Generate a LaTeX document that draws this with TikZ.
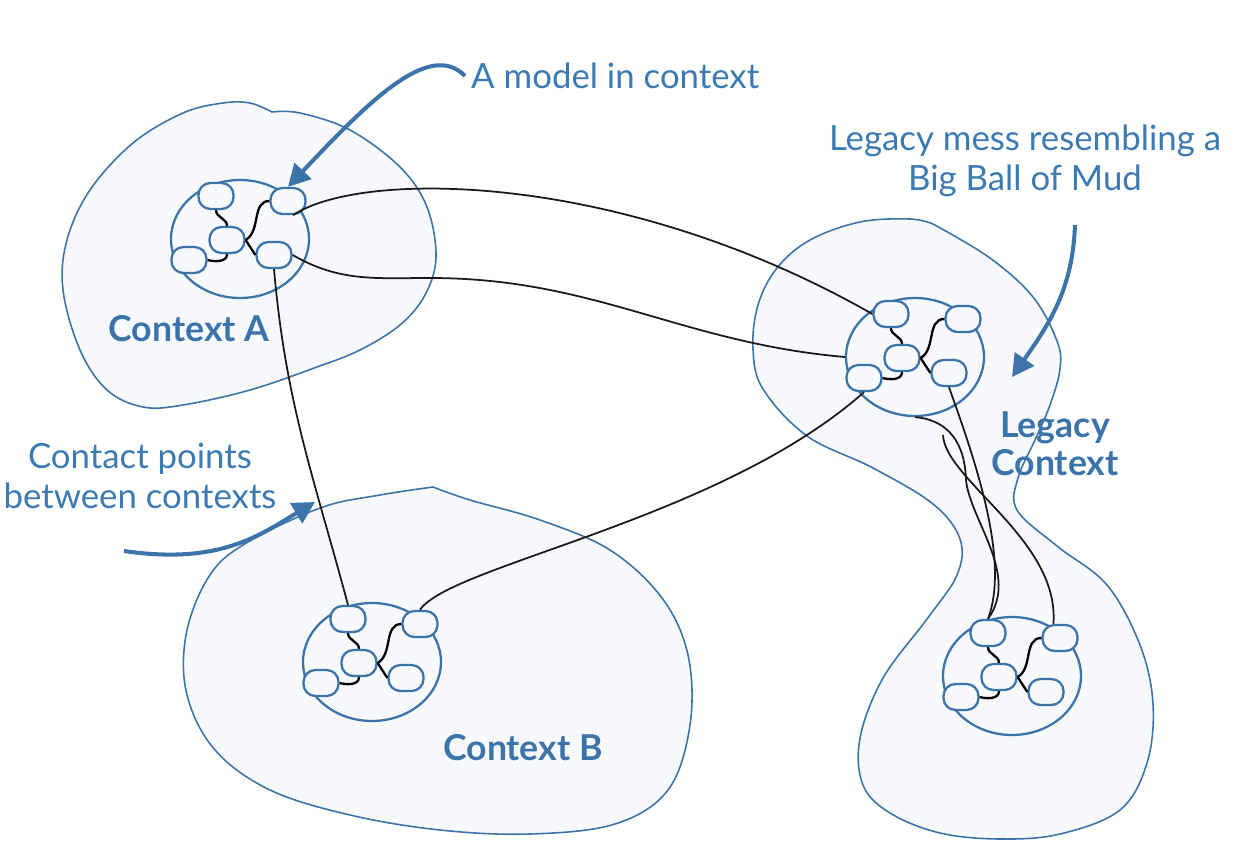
\documentclass[tikz,border=0pt]{standalone}
\usepackage{fontspec}
\setmainfont{Lato}
\usepackage{tikz}
\usetikzlibrary{arrows.meta,shapes.geometric}

\definecolor{mudblue}{RGB}{60,116,170}
\definecolor{mudfill}{RGB}{247,249,252}
\definecolor{notetext}{RGB}{60,122,180}

\begin{document}
\begin{tikzpicture}[x=0.02cm,y=0.02cm,
  blob/.style={draw=mudblue,fill=mudfill,line width=0.9pt},
  model/.style={ellipse,draw=mudblue,fill=mudfill,line width=1.3pt,minimum width=2.76cm,minimum height=2.36cm,inner sep=0pt},
  unit/.style={rectangle,rounded corners=0.24cm,draw=mudblue,fill=mudfill,line width=1.3pt,minimum width=0.7cm,minimum height=0.52cm,inner sep=0pt},
  wire/.style={black,line width=1.3pt},
  link/.style={black!90,line width=1pt},
  note/.style={text=notetext,font=\fontsize{19.8}{22.5}\selectfont,align=center},
  ctxname/.style={text=mudblue,font=\fontsize{20.3}{21.5}\selectfont\bfseries,align=center},
  pointer/.style={draw=mudblue,line width=2.3pt,-{Triangle[length=0.44cm,width=0.46cm]}},
  pics/cluster/.style={code={
    \node[model] (-c) at (0,0) {};
    \node[unit] (-b1) at (-24,43) {};
    \node[unit] (-b2) at (48,38) {};
    \node[unit] (-b3) at (-13,-1) {};
    \node[unit] (-b4) at (-51,-21) {};
    \node[unit] (-b5) at (34,-16) {};
    \draw[wire] (-b1.south) to[out=-90,in=90] (-b3.north)
      (-b4.east) to[out=-15,in=-90] (-b3.south)
      (-b3.east) to[out=30,in=180] (-b2.west)
      (-b3.east) -- (-b5.west);
  }}]
\useasboundingbox (0,0) rectangle (1242,-853);

% the three contexts
\draw[blob] plot[smooth,tension=0.6] coordinates {(272,-112) (300,-113) (350,-130) (400,-167) (427,-207) (436,-257) (425,-295) (400,-325) (360,-350) (317,-367) (250,-390) (183,-405) (143,-407) (107,-390) (80,-350) (63,-290) (67,-240) (90,-190) (133,-143) (183,-113) (223,-103) (250,-103) (272,-112)} -- cycle;
\draw[blob] plot[smooth,tension=0.6] coordinates {(433,-487) (470,-500) (540,-520) (610,-550) (662,-598) (688,-655) (690,-725) (668,-790) (615,-824) (530,-834) (440,-830) (350,-815) (270,-790) (215,-750) (187,-695) (186,-635) (208,-578) (243,-545) (320,-508) (380,-495) (433,-487)} -- cycle;
\draw[blob] plot[smooth,tension=0.6] coordinates {(933,-224) (990,-258) (1033,-297) (1057,-341) (1060,-369) (1050,-405) (1035,-440) (1018,-478) (1017,-510) (1057,-546) (1107,-585) (1140,-645) (1153,-704) (1147,-763) (1120,-810) (1060,-834) (1000,-839) (940,-833) (890,-813) (863,-785) (860,-738) (883,-678) (927,-619) (957,-575) (960,-539) (933,-504) (873,-468) (807,-436) (763,-389) (753,-349) (758,-305) (777,-268) (810,-240) (860,-222) (910,-219) (933,-224)} -- cycle;

% models
\pic (A) at (240,-239) {cluster};
\pic (L) at (915,-357) {cluster};
\pic (B) at (372,-662) {cluster};
\pic (M) at (1012,-676) {cluster};

\coordinate (loose) at (943,-435);
\draw[link] (A-b2.-70) .. controls (360,-170) and (620,-170) .. (L-b1.west);
\draw[link] (A-b5.east) to[out=-30,in=180] (430,-278) to[out=0,in=175] (L-c.west);
\draw[link] (A-b5.south) to[out=-85,in=105] (B-b1.north);
\draw[link] (B-b2.north) .. controls (450,-565) and (720,-520) .. (L-b4.south);
\draw[link] (L-b5.south) .. controls (975,-460) and (1010,-560) .. (M-b1.north);
\draw[link] (L-c.south) .. controls (950,-420) and (965,-445) .. (966,-480)
  .. controls (970,-520) and (1020,-575) .. (M-b1.north);
\draw[link] (loose) .. controls (945,-480) and (1060,-540) .. (M-b2.115);

% labels
\node[ctxname] (nA) at (189,-329) {Context A};
\node[ctxname] (nB) at (523,-748) {Context B};
\node[ctxname] (nL) at (1055,-444) {Legacy\\Context};
\node[note,anchor=west] (lmodel) at (465,-76) {A model in context};
\node[note] (lmess) at (1025,-161) {Legacy mess resembling a\\Big Ball of Mud};
\node[note] (lcontact) at (140,-476) {Contact points\\between contexts};

% pointers
\coordinate (messtail) at (1075,-225);
\coordinate (messtip) at (1012,-377);
\coordinate (contacttail) at (124,-551);
\coordinate (contacttip) at (315,-502);
\draw[pointer] (lmodel.west) .. controls (430,-40) and (370,-100) .. (A-b2.north);
\draw[pointer] (messtail) to[out=-92,in=55] (messtip);
\draw[pointer] (contacttail) .. controls (220,-565) and (260,-535) .. (contacttip);
\end{tikzpicture}
\end{document}
